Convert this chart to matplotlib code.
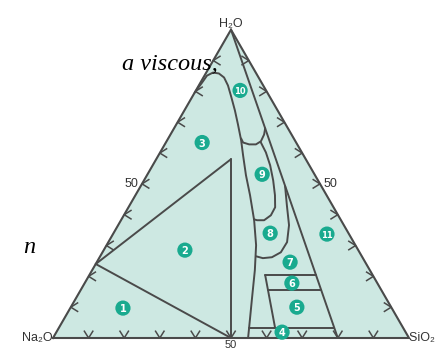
import numpy as np
from matplotlib import pyplot as plt

# Compositions in wt% as (SiO2, H2O); Na2O is the remainder.
tick_values = [10, 20, 30, 40, 50, 60, 70, 80, 90]

line_1_2 = [(0, 24), (50, 0)]
line_2_3 = [(0, 24), (21, 58)]
line_2_right = [(21, 58), (50, 0)]
ratio_line = [(0, 100), (80, 0)]

curve_3 = [
    (0, 79.6), (0.5, 83.2), (0.7, 85.1), (1.9, 86.1), (3.7, 85.8),
    (5.8, 84.5), (8.2, 81.9), (10.9, 78.3), (14.2, 73.8), (17.3, 69.3),
    (20.8, 64.1), (23.8, 59.2), (27.8, 52.8), (32.2, 46.3), (37.4, 38.2),
    (42.0, 30.1), (45.7, 22.0), (49.7, 12.3), (52.4, 5.8), (54.8, 0),
]
curve_10 = [
    (20.5, 64.7), (21.7, 63.4), (23.7, 62.8), (25.6, 62.8),
    (26.5, 63.8), (26.3, 66.0), (25.6, 68.0),
]
curve_9 = [
    (26.7, 63.4), (29.7, 60.2), (33.0, 56.0), (36.3, 51.1), (39.2, 46.3),
    (41.2, 42.4), (41.3, 39.8), (40.2, 38.2), (38.2, 38.2), (37.2, 38.5),
]
curve_8 = [
    (40.6, 49.2), (44.2, 43.0), (48.0, 36.6), (50.2, 31.1),
    (50.1, 27.8), (48.4, 26.2), (46.0, 25.9), (43.8, 26.5),
]
line_6_top = [(49.4, 20.4), (63.7, 20.4)]
line_5_top = [(52.6, 15.5), (67.6, 15.5)]
line_4_top = [(53.5, 3.2), (77.4, 3.2)]
line_5_left = [(49.4, 20.4), (60.8, 3.2)]

region_ids = ["1", "2", "3", "4", "5", "6", "7", "8", "9", "10", "11"]
region_sio2 = [14.8, 22.8, 10.2, 63.4, 63.5, 58.2, 54.3, 44.0, 32.2, 12.4, 60.1]
region_h2o = [9.7, 28.5, 63.4, 1.9, 10.0, 17.8, 24.6, 34.0, 53.1, 80.3, 33.7]

FILL = "#cde8e2"
LINE = "#4a4a4a"
BADGE = "#19aa8f"
PX = 1 / 356  # one pixel in data units


def to_xy(sio2, h2o):
    sio2 = np.asarray(sio2, dtype=float) / 100
    h2o = np.asarray(h2o, dtype=float) / 100
    return sio2 + 0.5 * h2o, np.sqrt(3) / 2 * h2o


def draw(ax, points, **kw):
    pts = np.asarray(points, dtype=float)
    x, y = to_xy(pts[:, 0], pts[:, 1])
    ax.plot(x, y, color=LINE, lw=1.4, solid_capstyle="round",
            solid_joinstyle="round", zorder=2, **kw)


def chevron(ax, x, y, direction, length=8 * PX, half_angle=32):
    d = np.radians(direction)
    a = np.radians(half_angle)
    xs = [x + length * np.cos(d + a), x, x + length * np.cos(d - a)]
    ys = [y + length * np.sin(d + a), y, y + length * np.sin(d - a)]
    ax.plot(xs, ys, color=LINE, lw=1.1, zorder=2)


fig = plt.figure(figsize=(4.48, 3.49), dpi=100)
ax = fig.add_axes([0, 0, 1, 1])
ax.set_xlim(-53 * PX, 395 * PX)
ax.set_ylim(-11 * PX, 338 * PX)
ax.axis("off")

# triangle
cx, cy = to_xy([0, 100, 0, 0], [0, 0, 100, 0])
ax.fill(cx, cy, color=FILL, zorder=0)
ax.plot(cx, cy, color=LINE, lw=1.5, zorder=2, solid_joinstyle="miter")

# ticks along the three edges
for t in tick_values:
    bx, by = to_xy(t, 0)
    chevron(ax, bx, by, 90)
    lx, ly = to_xy(0, t)
    chevron(ax, lx, ly, 0)
    rx, ry = to_xy(100 - t, t)
    chevron(ax, rx, ry, 180)

for pts in [line_1_2, line_2_3, line_2_right, ratio_line, curve_3,
            curve_10, curve_9, curve_8, line_6_top, line_5_top,
            line_4_top, line_5_left]:
    draw(ax, pts)

# numbered regions
rx, ry = to_xy(region_sio2, region_h2o)
ax.scatter(rx, ry, s=120, color=BADGE, edgecolors="none", zorder=3)
for label, x, y in zip(region_ids, rx, ry):
    ax.text(x, y, label, color="white", fontsize=7 if len(label) == 1 else 6,
            fontweight="bold", ha="center", va="center_baseline", zorder=4)

label_font = dict(fontsize=9, color="#333333",
                  family=["Liberation Sans", "DejaVu Sans"])
ax.text(*to_xy(0, 0), "Na₂O", ha="right", va="center", **label_font)
ax.text(*to_xy(0, 100), "H₂O", ha="center", va="bottom", **label_font)
ax.text(*to_xy(100, 0), "SiO₂ ", ha="left", va="center", **label_font)

x50, y50 = to_xy(0, 50)
ax.text(x50 - 4 * PX, y50, "50", ha="right", va="center", **label_font)
x50, y50 = to_xy(50, 50)
ax.text(x50 + 4 * PX, y50, "50", ha="left", va="center", **label_font)
x50, y50 = to_xy(50, 0)
ax.text(x50, y50 - 10 * PX, "50", ha="center", va="baseline",
        **{**label_font, "fontsize": 8})

# surrounding page text
serif = dict(family=["Liberation Serif", "DejaVu Serif"], style="italic",
             fontsize=17.5, color="black")
fig.text(122 / 448, 1 - 70 / 349, "a viscous,", ha="left", va="baseline", **serif)
fig.text(35 / 448, 1 - 253 / 349, "n", ha="right", va="baseline", **serif)

fig.savefig("out.png", dpi=100)
plt.close("all")
